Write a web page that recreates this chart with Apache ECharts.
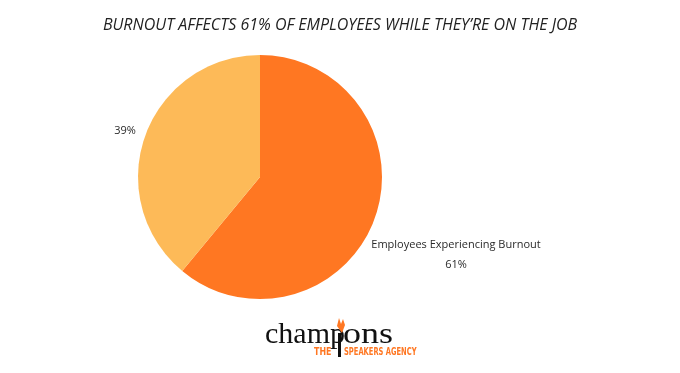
<!DOCTYPE html>
<html><head><meta charset="utf-8">
<script src="https://cdn.jsdelivr.net/npm/echarts@6/dist/echarts.min.js"></script>
<style>html,body{margin:0;padding:0;background:#fff}#c{width:680px;height:373px}</style>
</head><body><div id="c"></div>
<script>
var categories = ['Employees Experiencing Burnout', 'Employees Not Experiencing Burnout'];
var values = [61, 39];
var colors = ['#FF7722', '#FDBA58'];

var chart = echarts.init(document.getElementById('c'), null, {renderer: 'canvas'});
chart.setOption({
  animation: false,
  title: {
    text: 'BURNOUT AFFECTS 61% OF EMPLOYEES WHILE THEY\u2019RE ON THE JOB',
    left: 'center', top: 12,
    textStyle: {fontFamily: 'Open Sans', fontStyle: 'italic', fontWeight: 'normal', fontSize: 16, color: '#222'}
  },
  series: [{
    type: 'pie',
    center: [260, 177],
    radius: [0, 122],
    startAngle: 90,
    clockwise: true,
    data: categories.map(function (c, i) {
      return {name: c, value: values[i], itemStyle: {color: colors[i]}};
    }),
    label: {
      show: true,
      position: 'outside',
      color: '#2a2a2a',
      fontFamily: 'Open Sans',
      fontSize: 11,
      lineHeight: 20,
      align: 'center',
      formatter: function (p) {
        return p.dataIndex === 0 ? p.name + '\n' + p.value + '%' : p.value + '%';
      }
    },
    labelLine: {show: false},
    labelLayout: function (p) {
      if (p.dataIndex === 0) return {x: 456, y: 255, align: 'center', verticalAlign: 'middle'};
      return {x: 125, y: 131, align: 'center', verticalAlign: 'middle'};
    },
    itemStyle: {borderWidth: 0}
  }],
  graphic: [
    {type: 'text', x: 265, y: 320, style: {text: 'champ', font: '30px "Liberation Serif"', fill: '#111'}},
    {type: 'rect', shape: {x: 338, y: 333, width: 3, height: 24}, style: {fill: '#111'}},
    {type: 'polygon', shape: {points: [[337, 326], [342, 333], [345, 325], [343, 319], [341, 324], [339, 318]]}, style: {fill: '#FF7722'}},
    {type: 'text', x: 343, y: 320, scaleX: 1.2, style: {text: 'ons', font: '30px "Liberation Serif"', fill: '#111'}},
    {type: 'text', x: 314, y: 347, scaleX: 0.8, style: {text: 'THE', font: 'bold 11px "DejaVu Sans Condensed"', fill: '#FF7722'}},
    {type: 'text', x: 344, y: 347, scaleX: 0.68, style: {text: 'SPEAKERS AGENCY', font: 'bold 11px "DejaVu Sans Condensed"', fill: '#FF7722'}}
  ]
});
</script></body></html>
